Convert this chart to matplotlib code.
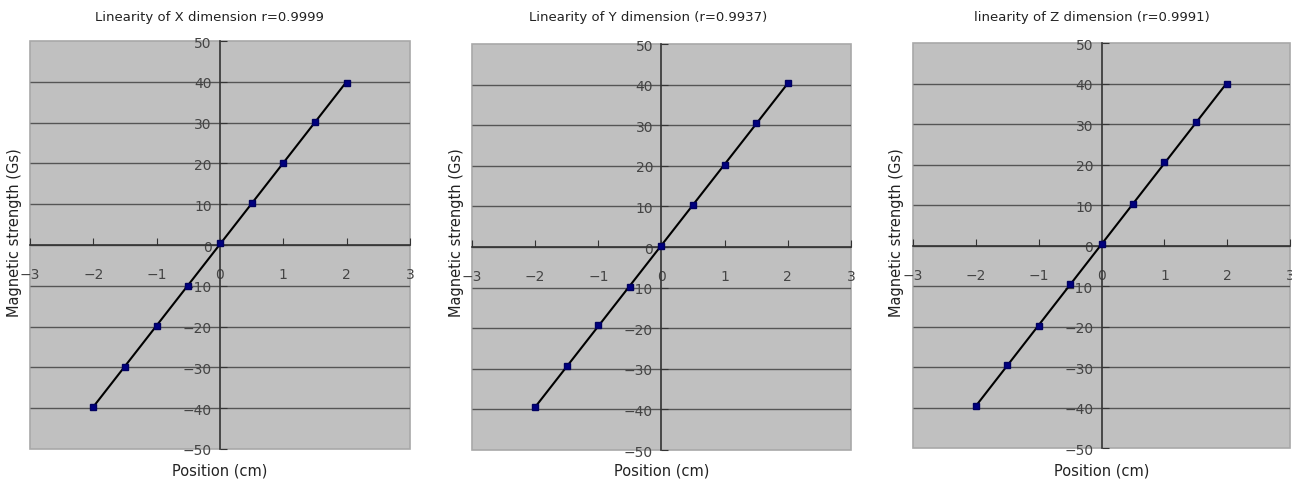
import numpy as np
import matplotlib
matplotlib.use("Agg")
import matplotlib.pyplot as plt

# positions (cm) and measured field (Gs) for each axis
position = [-2, -1.5, -1, -0.5, 0, 0.5, 1, 1.5, 2]
x_field = [-39.6, -29.8, -19.8, -10.0, 0.4, 10.2, 20.2, 30.2, 39.8]
y_field = [-39.5, -29.2, -19.3, -9.8, 0.2, 10.3, 20.3, 30.5, 40.4]
z_field = [-39.7, -29.6, -19.8, -9.6, 0.4, 10.3, 20.6, 30.4, 39.9]

titles = ["Linearity of X dimension r=0.9999",
          "Linearity of Y dimension (r=0.9937)",
          "linearity of Z dimension (r=0.9991)"]
xticks = [-3, -2, -1, 0, 1, 2, 3]
yticks = [-50, -40, -30, -20, -10, 0, 10, 20, 30, 40, 50]

fig = plt.figure(figsize=(12.92, 4.85), dpi=100)

boxes = [(0.0232, 0.0722, 0.294, 0.841),
         (0.3653, 0.0701, 0.2933, 0.837),
         (0.7067, 0.0742, 0.2918, 0.835)]
title_x = [0.162, 0.502, 0.845]
ylab_x = [0.011, 0.353, 0.694]

for i, (field, title) in enumerate(zip([x_field, y_field, z_field], titles)):
    ax = fig.add_axes(boxes[i])
    ax.set_facecolor("#c0c0c0")
    ax.patch.set_edgecolor("#a8a8a8")
    ax.patch.set_linewidth(1.2)

    ax.set_xlim(-3, 3)
    ax.set_ylim(-50, 50)
    ax.set_xticks(xticks)
    ax.set_yticks(yticks)
    # inner grid only, the frame stays light
    ax.hlines(yticks[1:-1], -3, 3, color="#555555", linewidth=1.0, zorder=1)

    ax.spines["left"].set_position(("data", 0))
    ax.spines["bottom"].set_position(("data", 0))
    ax.spines["right"].set_visible(False)
    ax.spines["top"].set_visible(False)
    for s in ("left", "bottom"):
        ax.spines[s].set_color("#333333")
        ax.spines[s].set_linewidth(1.2)
        ax.spines[s].set_zorder(2)

    ax.tick_params(axis="x", direction="in", length=5, pad=16,
                   labelsize=10, colors="#333333", labelcolor="#444444")
    ax.tick_params(axis="y", direction="in", length=5, pad=6,
                   labelsize=10, colors="#333333", labelcolor="#444444")

    # fitted line
    k, b = np.polyfit(position, field, 1)
    xs = np.array([position[0], position[-1]])
    ax.plot(xs, k * xs + b, color="black", linewidth=1.5, zorder=3)
    ax.plot(position, field, linestyle="none", marker="s", markersize=5,
            color="#000080", markeredgecolor="#000060", zorder=4)

    fig.text(title_x[i], 0.963, title, ha="center", va="center",
             fontsize=9.5, color="#222222")
    fig.text(ylab_x[i], 0.52, "Magnetic strength (Gs)", rotation=90,
             ha="center", va="center", fontsize=10.5, color="#222222")
    fig.text(boxes[i][0] + boxes[i][2] / 2, 0.028, "Position (cm)",
             ha="center", va="center", fontsize=10.5, color="#222222")

fig.savefig("out.png", dpi=100, facecolor="white")
